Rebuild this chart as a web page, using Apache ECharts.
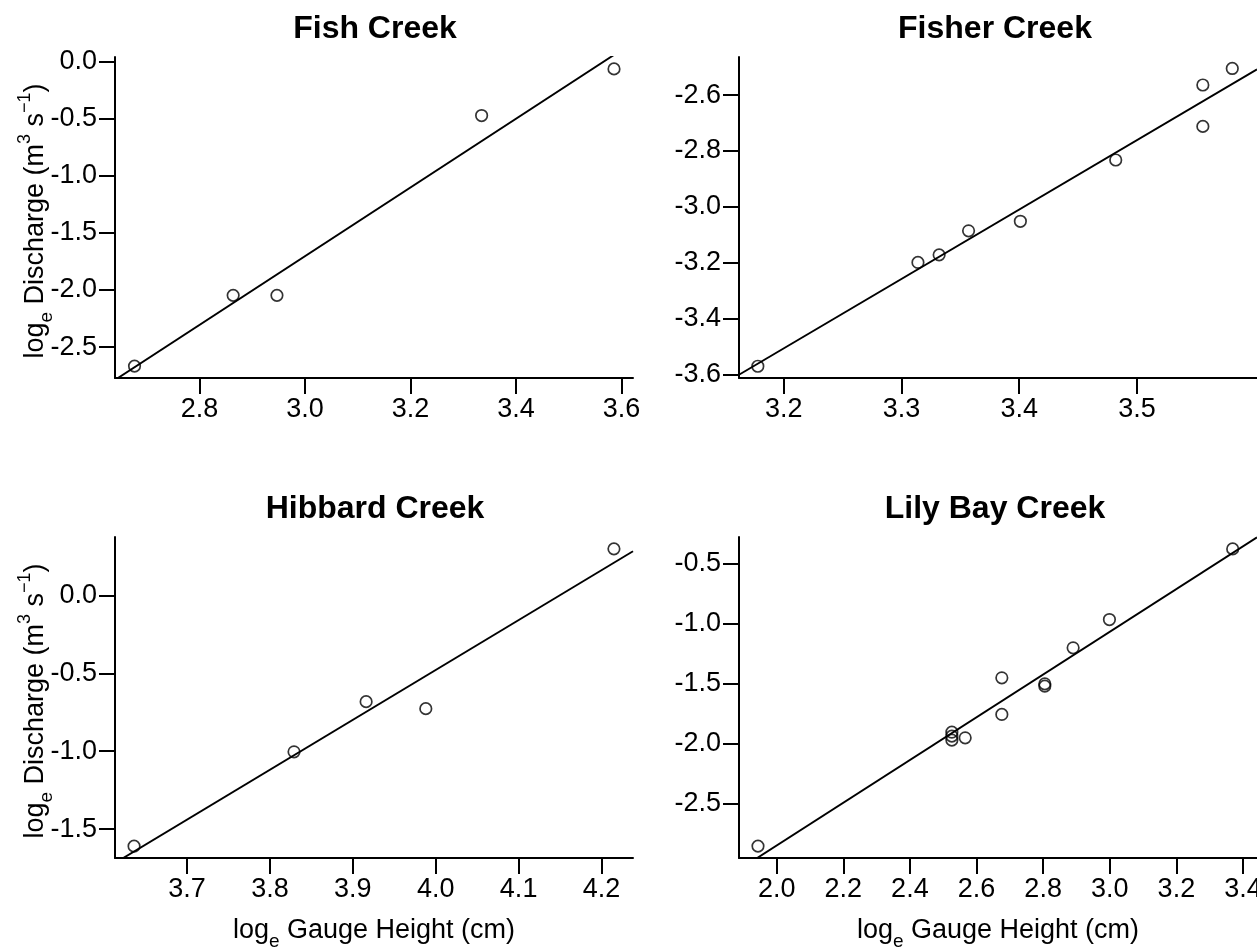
<!DOCTYPE html>
<html><head><meta charset="utf-8">
<script src="https://cdn.jsdelivr.net/npm/echarts@6/dist/echarts.min.js"></script>
<style>html,body{margin:0;padding:0;background:#fff}#c{width:1257px;height:949px}</style>
</head><body><div id="c"></div>
<script>
// ---- data ----
const panelTitles = ['Fish Creek', 'Fisher Creek', 'Hibbard Creek', 'Lily Bay Creek'];

const fishX = [2.677, 2.864, 2.947, 3.335, 3.586];
const fishY = [-2.666, -2.047, -2.047, -0.474, -0.066];

const fisherX = [3.178, 3.314, 3.332, 3.357, 3.401, 3.482, 3.556, 3.556, 3.581];
const fisherY = [-3.569, -3.198, -3.171, -3.085, -3.051, -2.832, -2.564, -2.712, -2.505];

const hibbardX = [3.636, 3.829, 3.916, 3.988, 4.215];
const hibbardY = [-1.609, -1.004, -0.682, -0.727, 0.298];

const lilyX = [1.944, 2.526, 2.526, 2.526, 2.566, 2.676, 2.676, 2.805, 2.805, 2.890, 2.999, 3.369];
const lilyY = [-2.856, -1.906, -1.939, -1.972, -1.953, -1.453, -1.758, -1.503, -1.522, -1.203, -0.967, -0.378];

// fitted regression lines (intercept, slope)
const fitIntercept = [-10.723, -11.4445, -13.275, -6.4141];
const fitSlope = [3.006, 2.481, 3.199, 1.7816];

// axis limits
const xLimits = [[2.640, 3.622], [3.162, 3.602], [3.613, 4.238], [1.887, 3.442]];
const yLimits = [[-2.770, 0.038], [-3.611, -2.464], [-1.685, 0.374], [-2.955, -0.279]];

// tick values
const fishXTicks = [2.8, 3.0, 3.2, 3.4, 3.6];
const fishYTicks = [0.0, -0.5, -1.0, -1.5, -2.0, -2.5];
const fisherXTicks = [3.2, 3.3, 3.4, 3.5];
const fisherYTicks = [-2.6, -2.8, -3.0, -3.2, -3.4, -3.6];
const hibbardXTicks = [3.7, 3.8, 3.9, 4.0, 4.1, 4.2];
const hibbardYTicks = [0.0, -0.5, -1.0, -1.5];
const lilyXTicks = [2.0, 2.2, 2.4, 2.6, 2.8, 3.0, 3.2, 3.4];
const lilyYTicks = [-0.5, -1.0, -1.5, -2.0, -2.5];

const xLabelText = '{m|log}{sub|e}{m| Gauge Height (cm)}';
const yLabelText = '{m|log}{sub|e}{m| Discharge (m}{sup|3}{m| s}{sup|\u22121}{m|)}';

// ---- layout / style ----
const FONT = "'Liberation Sans', Arial, Helvetica, sans-serif";
const gridLeft = [115, 739, 115, 739];
const gridTop = [57, 57, 537, 537];
const gridW = [518, 518, 518, 518];
const GH = 321;
const titleCenter = [375, 995, 375, 995];
const titleTop = [13, 13, 493, 493];

const xsAll = [fishX, fisherX, hibbardX, lilyX];
const ysAll = [fishY, fisherY, hibbardY, lilyY];
const xTicksAll = [fishXTicks, fisherXTicks, hibbardXTicks, lilyXTicks];
const yTicksAll = [fishYTicks, fisherYTicks, hibbardYTicks, lilyYTicks];

const rich = {
  m: { fontSize: 27, fontFamily: FONT, color: '#000', lineHeight: 40, verticalAlign: 'middle' },
  sub: { fontSize: 19, fontFamily: FONT, color: '#000', lineHeight: 24, verticalAlign: 'bottom' },
  sup: { fontSize: 18, fontFamily: FONT, color: '#000', lineHeight: 15, verticalAlign: 'top' }
};

const lineStyle = { color: '#000', width: 2 };
const fmt = v => Number(v).toFixed(1);

const grids = [], xAxes = [], yAxes = [], series = [], titles = [];
for (let i = 0; i < 4; i++) {
  grids.push({ left: gridLeft[i], top: gridTop[i], width: gridW[i], height: GH, outerBoundsMode: 'none', containLabel: false });
  titles.push({
    text: panelTitles[i], left: titleCenter[i], top: titleTop[i], textAlign: 'center', padding: 0,
    textStyle: { fontSize: 32, fontWeight: 'bold', fontFamily: FONT, color: '#000' }
  });
  xAxes.push({
    type: 'value', gridIndex: i, min: xLimits[i][0], max: xLimits[i][1],
    axisLine: { show: true, onZero: false, lineStyle },
    axisTick: { show: true, inside: false, length: 16, lineStyle, customValues: xTicksAll[i] },
    axisLabel: { show: true, margin: 18, fontSize: 27, fontFamily: FONT, color: '#000', formatter: fmt, customValues: xTicksAll[i], showMinLabel: true, showMaxLabel: true },
    splitLine: { show: false },
    name: i >= 2 ? xLabelText : '', nameLocation: 'middle', nameGap: 53, nameMoveOverlap: false,
    nameTextStyle: { rich }
  });
  yAxes.push({
    type: 'value', gridIndex: i, min: yLimits[i][0], max: yLimits[i][1],
    axisLine: { show: true, onZero: false, lineStyle },
    axisTick: { show: true, inside: false, length: 16, lineStyle, customValues: yTicksAll[i] },
    axisLabel: { show: true, margin: 18, fontSize: 27, fontFamily: FONT, color: '#000', formatter: fmt, customValues: yTicksAll[i], showMinLabel: true, showMaxLabel: true },
    splitLine: { show: false },
    name: (i % 2 === 0) ? yLabelText : '', nameLocation: 'middle', nameGap: 59, nameRotate: 90, nameMoveOverlap: false,
    nameTextStyle: { rich, padding: [0, 7, 0, 0] }
  });
  const pts = xsAll[i].map((x, k) => [x, ysAll[i][k]]);
  series.push({
    type: 'scatter', xAxisIndex: i, yAxisIndex: i, data: pts,
    symbol: 'circle', symbolSize: 11.5,
    itemStyle: { color: 'rgba(0,0,0,0)', borderColor: '#000', borderWidth: 1.7 },
    silent: true, z: 3
  });
  const x0 = xLimits[i][0], x1 = xLimits[i][1];
  series.push({
    type: 'line', xAxisIndex: i, yAxisIndex: i,
    data: [[x0, fitIntercept[i] + fitSlope[i] * x0], [x1, fitIntercept[i] + fitSlope[i] * x1]],
    symbol: 'none', clip: true, lineStyle: { color: '#000', width: 1.9 }, silent: true, z: 2
  });
}

const chart = echarts.init(document.getElementById('c'), null, { renderer: 'canvas' });
chart.setOption({
  backgroundColor: '#fff', animation: false,
  title: titles, grid: grids, xAxis: xAxes, yAxis: yAxes, series
});
</script></body></html>
